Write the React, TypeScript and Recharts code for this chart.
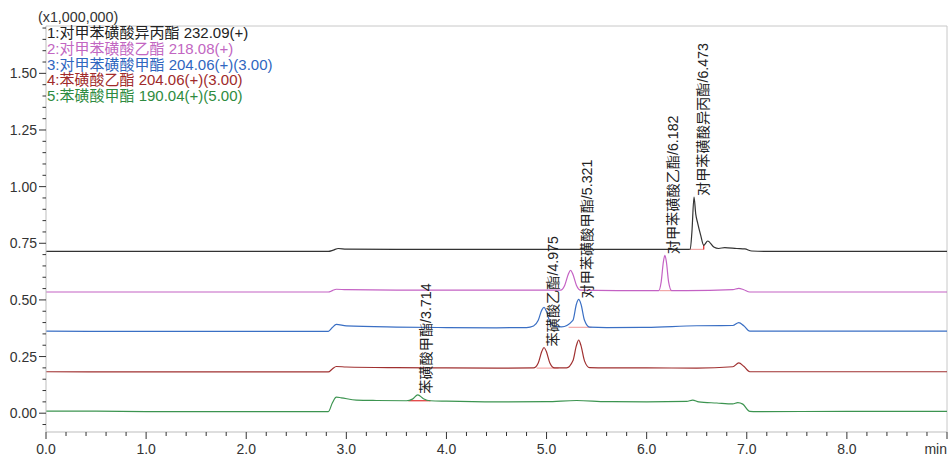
import { LineChart, Line, XAxis, YAxis, ReferenceLine, ReferenceDot } from "recharts";

const FONT = "'Liberation Sans', Arial, 'Noto Sans CJK SC', sans-serif";

// 5: 苯磺酸甲酯 (green)
const greenT = [0, 0.5, 1.0, 2.0, 2.82, 2.86, 2.9, 2.95, 3.1, 3.3, 3.6, 3.66, 3.714, 3.77, 3.84, 4.0, 4.5, 5.0, 5.3, 5.6, 6.0, 6.4, 6.46, 6.52, 6.7, 6.86, 6.91, 6.96, 7.03, 7.1, 8.0, 9.0];
const greenV = [0.009, 0.009, 0.007, 0.007, 0.007, 0.045, 0.071, 0.068, 0.058, 0.056, 0.055, 0.062, 0.081, 0.064, 0.055, 0.053, 0.05, 0.051, 0.056, 0.051, 0.05, 0.052, 0.058, 0.05, 0.045, 0.041, 0.047, 0.04, 0.008, 0.007, 0.008, 0.008];

// 4: 苯磺酸乙酯 (dark red)
const redT = [0, 1.0, 2.82, 2.86, 2.9, 3.0, 3.5, 4.0, 4.5, 4.87, 4.917, 4.952, 4.975, 4.998, 5.033, 5.08, 5.2, 5.263, 5.298, 5.321, 5.344, 5.379, 5.43, 5.6, 6.0, 6.5, 6.86, 6.92, 6.97, 7.03, 7.1, 8.0, 9.0];
const redV = [0.183, 0.182, 0.182, 0.195, 0.206, 0.204, 0.201, 0.2, 0.199, 0.2, 0.222, 0.272, 0.29, 0.272, 0.222, 0.2, 0.2, 0.231, 0.298, 0.323, 0.298, 0.231, 0.201, 0.2, 0.2, 0.199, 0.205, 0.222, 0.207, 0.183, 0.183, 0.183, 0.183];

// 3: 对甲苯磺酸甲酯 (blue)
const blueT = [0, 1.0, 2.82, 2.86, 2.9, 3.0, 3.5, 4.0, 4.5, 4.8, 4.87, 4.917, 4.952, 4.975, 4.998, 5.033, 5.08, 5.15, 5.263, 5.298, 5.321, 5.344, 5.379, 5.43, 5.6, 6.0, 6.5, 6.86, 6.92, 6.97, 7.03, 7.1, 8.0, 9.0];
const blueV = [0.362, 0.361, 0.361, 0.378, 0.392, 0.385, 0.38, 0.378, 0.377, 0.378, 0.385, 0.41, 0.455, 0.467, 0.45, 0.405, 0.383, 0.381, 0.41, 0.481, 0.502, 0.481, 0.41, 0.38, 0.378, 0.379, 0.386, 0.387, 0.4, 0.386, 0.362, 0.362, 0.362, 0.362];

// 2: 对甲苯磺酸乙酯 (pink)
const pinkT = [0, 1.0, 2.82, 2.86, 2.9, 3.0, 3.5, 4.0, 4.5, 5.0, 5.14, 5.182, 5.217, 5.24, 5.263, 5.298, 5.34, 5.5, 6.0, 6.12, 6.145, 6.167, 6.182, 6.197, 6.219, 6.25, 6.4, 6.86, 6.92, 6.97, 7.03, 7.1, 8.0, 9.0];
const pinkV = [0.535, 0.535, 0.535, 0.541, 0.547, 0.545, 0.543, 0.543, 0.543, 0.543, 0.543, 0.565, 0.613, 0.631, 0.613, 0.565, 0.543, 0.542, 0.541, 0.541, 0.58, 0.668, 0.697, 0.668, 0.58, 0.541, 0.541, 0.545, 0.551, 0.545, 0.535, 0.535, 0.535, 0.535];

// 1: 对甲苯磺酸异丙酯 (black)
const blackT = [0, 1.0, 2.82, 2.87, 2.92, 3.0, 3.5, 4.0, 5.0, 6.0, 6.4, 6.435, 6.452, 6.473, 6.49, 6.51, 6.54, 6.57, 6.61, 6.67, 6.72, 6.78, 6.9, 6.98, 7.05, 7.2, 8.0, 9.0];
const blackV = [0.714, 0.714, 0.714, 0.72, 0.727, 0.724, 0.723, 0.723, 0.723, 0.723, 0.723, 0.724, 0.8, 0.954, 0.88, 0.838, 0.785, 0.741, 0.76, 0.734, 0.727, 0.731, 0.727, 0.725, 0.716, 0.714, 0.714, 0.714];

const legendLines = [
  { text: "1:对甲苯磺酸异丙酯 232.09(+)", color: "#222222" },
  { text: "2:对甲苯磺酸乙酯 218.08(+)", color: "#c266c2" },
  { text: "3:对甲苯磺酸甲酯 204.06(+)(3.00)", color: "#2f66c0" },
  { text: "4:苯磺酸乙酯 204.06(+)(3.00)", color: "#a02a2a" },
  { text: "5:苯磺酸甲酯 190.04(+)(5.00)", color: "#2e8b40" },
];

const peakLabels = [
  { t: 3.714, v: 0.081, text: "苯磺酸甲酯/3.714" },
  { t: 4.975, v: 0.29, text: "苯磺酸乙酯/4.975" },
  { t: 5.321, v: 0.502, text: "对甲苯磺酸甲酯/5.321" },
  { t: 6.182, v: 0.697, text: "对甲苯磺酸乙酯/6.182" },
  { t: 6.473, v: 0.954, text: "对甲苯磺酸异丙酯/6.473" },
];

// integration baselines drawn under peaks
const baseMarks = [
  { t0: 3.62, t1: 3.84, v0: 0.055, v1: 0.055, color: "#e03030" },
  { t0: 4.9, t1: 5.12, v0: 0.199, v1: 0.199, color: "#f2a8a8" },
  { t0: 5.22, t1: 5.45, v0: 0.379, v1: 0.379, color: "#f2a8a8" },
  { t0: 6.13, t1: 6.25, v0: 0.541, v1: 0.541, color: "#f2a8a8" },
  { t0: 6.43, t1: 6.57, v0: 0.723, v1: 0.723, color: "#f2a8a8" },
  { t0: 6.57, t1: 6.57, v0: 0.723, v1: 0.745, color: "#e02020" },
];

const xMajor = [0, 1, 2, 3, 4, 5, 6, 7, 8, 9];
const xLabels = ["0.0", "1.0", "2.0", "3.0", "4.0", "5.0", "6.0", "7.0", "8.0", "min"];
const yMajor = [0, 0.25, 0.5, 0.75, 1.0, 1.25, 1.5];
const yLabels = ["0.00", "0.25", "0.50", "0.75", "1.00", "1.25", "1.50"];

const xTicks = Array.from({ length: 46 }, (_, i) => Math.round(i * 0.2 * 10) / 10);
const yTicks = Array.from({ length: 36 }, (_, i) => Math.round((i - 1) * 5) / 100);

const Y_MIN = -0.083;
const Y_MAX = 1.709;

const toPoints = (ts: number[], vs: number[]) => ts.map((t, i) => ({ t, v: vs[i] }));

const series = [
  { name: "black", data: toPoints(blackT, blackV), color: "#333333" },
  { name: "pink", data: toPoints(pinkT, pinkV), color: "#c462c4" },
  { name: "blue", data: toPoints(blueT, blueV), color: "#3a6fc4" },
  { name: "red", data: toPoints(redT, redV), color: "#a03030" },
  { name: "green", data: toPoints(greenT, greenV), color: "#3c9450" },
];

function XTick(props: any) {
  const { x, y, payload } = props;
  const idx = xMajor.findIndex((m) => Math.abs(m - payload.value) < 1e-6);
  const major = idx >= 0;
  return (
    <g>
      <line x1={x} x2={x} y1={y} y2={y + (major ? 7 : 4)} stroke="#333" strokeWidth={1} />
      {major && (
        <text
          x={x}
          y={y + 17}
          textAnchor={idx === 9 ? "end" : "middle"}
          dominantBaseline="central"
          fontSize={14}
          fontFamily={FONT}
          fill="#333"
        >
          {xLabels[idx]}
        </text>
      )}
    </g>
  );
}

function YTick(props: any) {
  const { x, y, payload } = props;
  const idx = yMajor.findIndex((m) => Math.abs(m - payload.value) < 1e-6);
  const major = idx >= 0;
  return (
    <g>
      <line x1={x - (major ? 7 : 3.5)} x2={x} y1={y} y2={y} stroke="#333" strokeWidth={1} />
      {major && (
        <text
          x={x - 9}
          y={y}
          textAnchor="end"
          dominantBaseline="central"
          fontSize={14}
          fontFamily={FONT}
          fill="#333"
        >
          {yLabels[idx]}
        </text>
      )}
    </g>
  );
}

function PeakLabel(props: any) {
  const { cx, cy, text } = props;
  if (cx == null || cy == null) return null;
  return (
    <text
      transform={`translate(${cx + 8.5},${cy - 1}) rotate(-90)`}
      textAnchor="start"
      dominantBaseline="central"
      fontSize={14.2}
      fontFamily={FONT}
      fill="#222"
    >
      {text}
    </text>
  );
}

export default function App() {
  return (
    <div style={{ position: "absolute", left: 0, top: 0, width: 948, height: 457, background: "#fff", fontFamily: FONT }}>
      <LineChart width={948} height={457} margin={{ top: 26, right: 1, left: 0, bottom: 0 }}>
        <XAxis
          type="number"
          dataKey="t"
          domain={[0, 9]}
          ticks={xTicks}
          interval={0}
          height={25}
          tickSize={0}
          tickMargin={0}
          tickLine={false}
          axisLine={{ stroke: "#bdbdbd" }}
          tick={<XTick />}
          allowDataOverflow
        />
        <YAxis
          type="number"
          dataKey="v"
          domain={[Y_MIN, Y_MAX]}
          ticks={yTicks}
          interval={0}
          width={46}
          tickSize={0}
          tickMargin={0}
          tickLine={false}
          axisLine={{ stroke: "#bdbdbd" }}
          tick={<YTick />}
          allowDataOverflow
        />
        <ReferenceLine y={Y_MAX} stroke="#c8c8c8" />
        <ReferenceLine x={9} stroke="#c8c8c8" />
        {baseMarks.map((m, i) => (
          <ReferenceLine
            key={`b${i}`}
            segment={[
              { x: m.t0, y: m.v0 },
              { x: m.t1, y: m.v1 },
            ]}
            stroke={m.color}
            strokeWidth={1.2}
          />
        ))}
        {series.map((s) => (
          <Line
            key={s.name}
            data={s.data}
            dataKey="v"
            type="monotone"
            stroke={s.color}
            strokeWidth={1.2}
            dot={false}
            isAnimationActive={false}
          />
        ))}
        {peakLabels.map((p) => (
          <ReferenceDot
            key={p.text}
            x={p.t}
            y={p.v}
            r={1}
            shape={(sp: any) => <PeakLabel {...sp} text={p.text} />}
          />
        ))}
      </LineChart>
      <div style={{ position: "absolute", left: 38, top: 8, fontSize: 14.3, lineHeight: "18px", color: "#333", whiteSpace: "nowrap" }}>
        (x1,000,000)
      </div>
      <div style={{ position: "absolute", left: 47, top: 25, fontSize: 15, lineHeight: "15.8px", whiteSpace: "nowrap" }}>
        {legendLines.map((l) => (
          <div key={l.text} style={{ color: l.color }}>
            {l.text}
          </div>
        ))}
      </div>
    </div>
  );
}
